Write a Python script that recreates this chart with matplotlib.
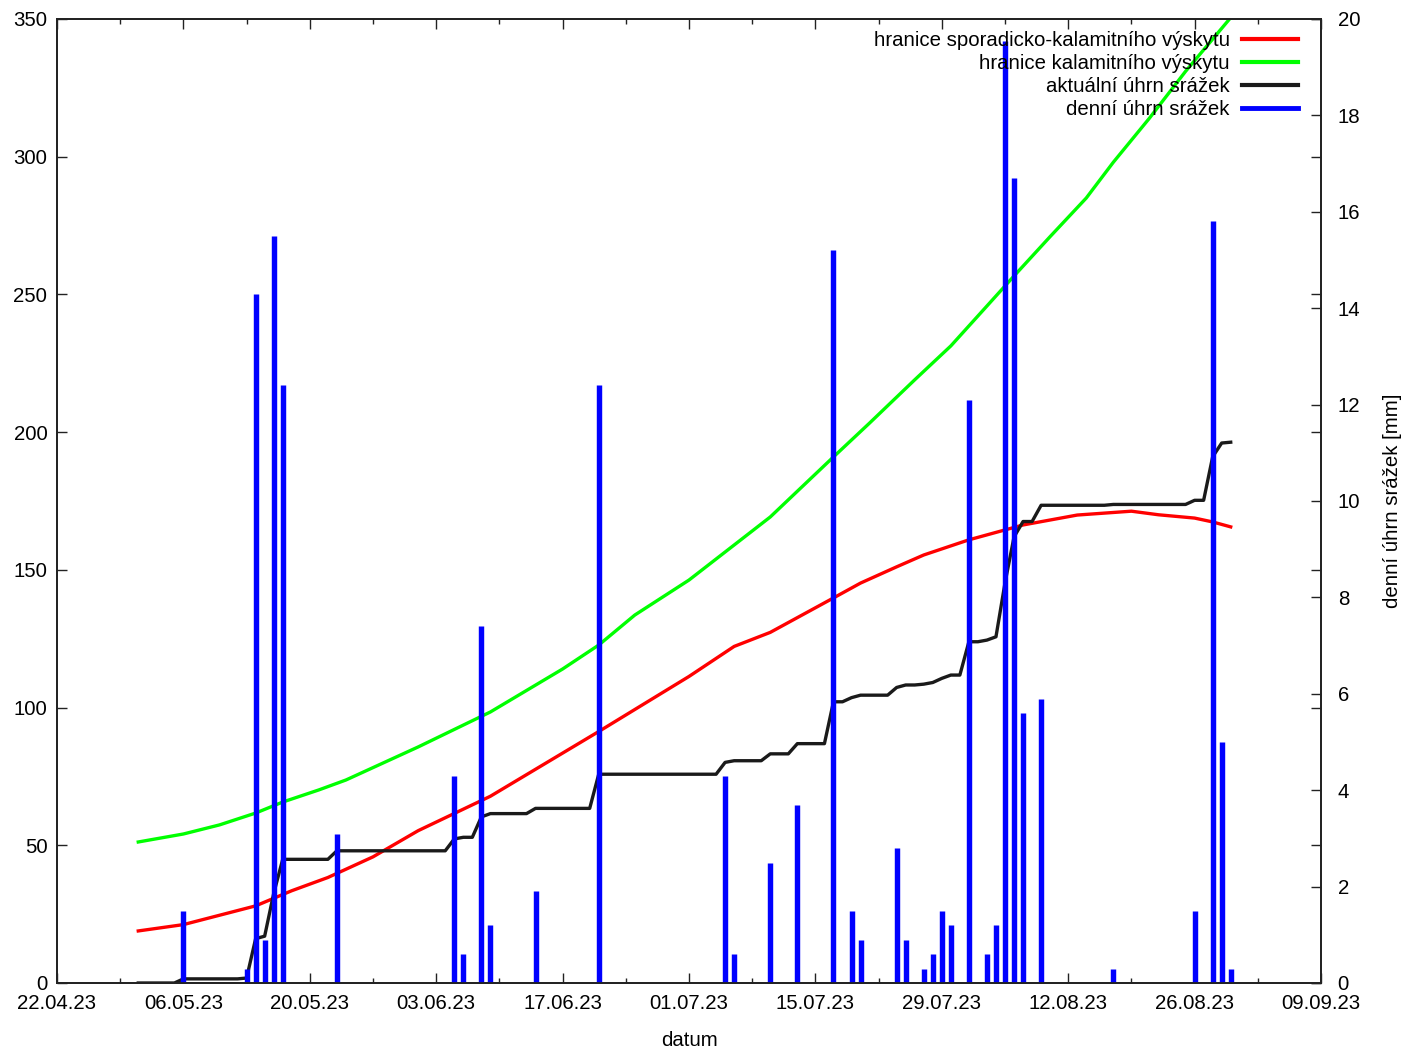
import numpy as np
import matplotlib
matplotlib.use('Agg')
import matplotlib.pyplot as plt
import matplotlib.dates as mdates
from matplotlib.lines import Line2D

plt.rcParams['font.family'] = ['Liberation Sans', 'DejaVu Sans']
plt.rcParams['font.size'] = 14.7

# ---------------- data ----------------
rain_dates = ['2023-05-06', '2023-05-13', '2023-05-14', '2023-05-15', '2023-05-16',
              '2023-05-17', '2023-05-23', '2023-06-05', '2023-06-06', '2023-06-08',
              '2023-06-09', '2023-06-14', '2023-06-21', '2023-07-05', '2023-07-06',
              '2023-07-10', '2023-07-13', '2023-07-17', '2023-07-19', '2023-07-20',
              '2023-07-24', '2023-07-25', '2023-07-27', '2023-07-28', '2023-07-29',
              '2023-07-30', '2023-08-01', '2023-08-03', '2023-08-04', '2023-08-05',
              '2023-08-06', '2023-08-07', '2023-08-09', '2023-08-17', '2023-08-26',
              '2023-08-28', '2023-08-29', '2023-08-30']
rain_mm = [1.5, 0.3, 14.3, 0.9, 15.5,
           12.4, 3.1, 4.3, 0.6, 7.4,
           1.2, 1.9, 12.4, 4.3, 0.6,
           2.5, 3.7, 15.2, 1.5, 0.9,
           2.8, 0.9, 0.3, 0.6, 1.5,
           1.2, 12.1, 0.6, 1.2, 19.55,
           16.7, 5.6, 5.9, 0.3, 1.5,
           15.8, 5.0, 0.3]

sporadic_dates = ['2023-05-01', '2023-05-06', '2023-05-10', '2023-05-14', '2023-05-18',
                  '2023-05-22', '2023-05-27', '2023-06-01', '2023-06-09', '2023-06-21',
                  '2023-07-01', '2023-07-06', '2023-07-10', '2023-07-17', '2023-07-20',
                  '2023-07-24', '2023-07-27', '2023-08-01', '2023-08-07', '2023-08-13',
                  '2023-08-19', '2023-08-22', '2023-08-26', '2023-08-28', '2023-08-30']
sporadic_mm = [18.9, 21.2, 24.6, 28.0, 33.5,
               38.3, 45.8, 55.3, 67.8, 91.3,
               111.3, 122.2, 127.3, 139.8, 145.2,
               151.1, 155.4, 160.9, 166.3, 169.9,
               171.3, 170.0, 168.8, 167.4, 165.6]

calamity_dates = ['2023-05-01', '2023-05-06', '2023-05-10', '2023-05-14', '2023-05-17',
                  '2023-05-21', '2023-05-24', '2023-06-01', '2023-06-09', '2023-06-17',
                  '2023-06-21', '2023-06-25', '2023-07-01', '2023-07-10', '2023-07-17',
                  '2023-07-21', '2023-07-26', '2023-07-30', '2023-08-03', '2023-08-06',
                  '2023-08-10', '2023-08-14', '2023-08-17', '2023-08-21', '2023-08-25',
                  '2023-08-30']
calamity_mm = [51.2, 54.1, 57.4, 61.7, 65.7,
               70.1, 73.7, 85.7, 98.4, 114.0,
               122.7, 133.6, 146.3, 169.2, 191.0,
               203.3, 219.0, 231.3, 245.8, 256.7,
               271.0, 285.0, 298.0, 314.0, 331.0,
               350.5]

series_start = '2023-05-01'
series_end = '2023-08-30'
axis_start = '2023-04-22'
axis_end = '2023-09-09'

legend_labels = ['hranice sporadicko-kalamitního výskytu',
                 'hranice kalamitního výskytu',
                 'aktuální úhrn srážek',
                 'denní úhrn srážek']
x_label = 'datum'
y2_label = 'denní úhrn srážek [mm]'

# ---------------- derived daily table ----------------
days = np.arange(np.datetime64(series_start), np.datetime64(series_end) + 1)
daily = np.zeros(len(days))
for d, v in zip(rain_dates, rain_mm):
    daily[days == np.datetime64(d)] = v
cumulative = np.cumsum(daily)

RED, GREEN, BLACK, BLUE = '#ff0000', '#00ff00', '#1a1a1a', '#0000ff'

fig = plt.figure(figsize=(14.06, 10.5), dpi=100)
ax = fig.add_axes([57 / 1406, 1 - 983 / 1050, 1264 / 1406, 964 / 1050])

ax.plot(np.array(sporadic_dates, dtype='datetime64[D]'), sporadic_mm, color=RED, lw=2.4)
ax.plot(np.array(calamity_dates, dtype='datetime64[D]'), calamity_mm, color=GREEN, lw=2.4)
ax.plot(days, cumulative, color=BLACK, lw=2.4)

ax2 = ax.twinx()
ax2.vlines(np.array(rain_dates, dtype='datetime64[D]'), 0, rain_mm, color=BLUE, lw=3.9)

ax.set_xlim(np.datetime64(axis_start), np.datetime64(axis_end))
ax.set_ylim(0, 350)
ax2.set_ylim(0, 20)

ax.set_xticks(np.arange(np.datetime64(axis_start), np.datetime64(axis_end) + 1, 14))
ax.set_xticks(np.arange(np.datetime64(axis_start), np.datetime64(axis_end) + 1, 7), minor=True)
ax.xaxis.set_major_formatter(mdates.DateFormatter('%d.%m.%y'))
ax.set_yticks(np.arange(0, 351, 50))
ax2.set_yticks(np.arange(0, 21, 2))

for a in (ax, ax2):
    for s in a.spines.values():
        s.set_linewidth(1.3)
        s.set_color('#222222')

ax.tick_params(axis='x', which='both', direction='in', top=True, bottom=True, pad=8,
               width=1.0, color='#222222')
ax.tick_params(axis='x', which='major', length=7)
ax.tick_params(axis='x', which='minor', length=3.5)
ax.tick_params(axis='y', direction='in', left=True, right=True, labelright=False,
               length=7, width=1.0, pad=7, color='#222222')
ax2.tick_params(axis='y', direction='in', right=True, length=7, width=1.0, pad=12,
                color='#222222')

ax.set_xlabel(x_label, labelpad=13)
ax2.set_ylabel(y2_label, labelpad=16)

handles = [Line2D([], [], color=RED, lw=3),
           Line2D([], [], color=GREEN, lw=3),
           Line2D([], [], color=BLACK, lw=3),
           Line2D([], [], color=BLUE, lw=3.5)]
leg = ax2.legend(handles, legend_labels, loc='upper right', bbox_to_anchor=(0.9818, 0.9876),
                 frameon=False, markerfirst=False, handlelength=2.75, handletextpad=0.6,
                 labelspacing=0.2, borderpad=0, borderaxespad=0, fontsize=14.7)
for col in leg._legend_handle_box.get_children():
    col.align = 'right'

fig.savefig('out.png', dpi=100)
